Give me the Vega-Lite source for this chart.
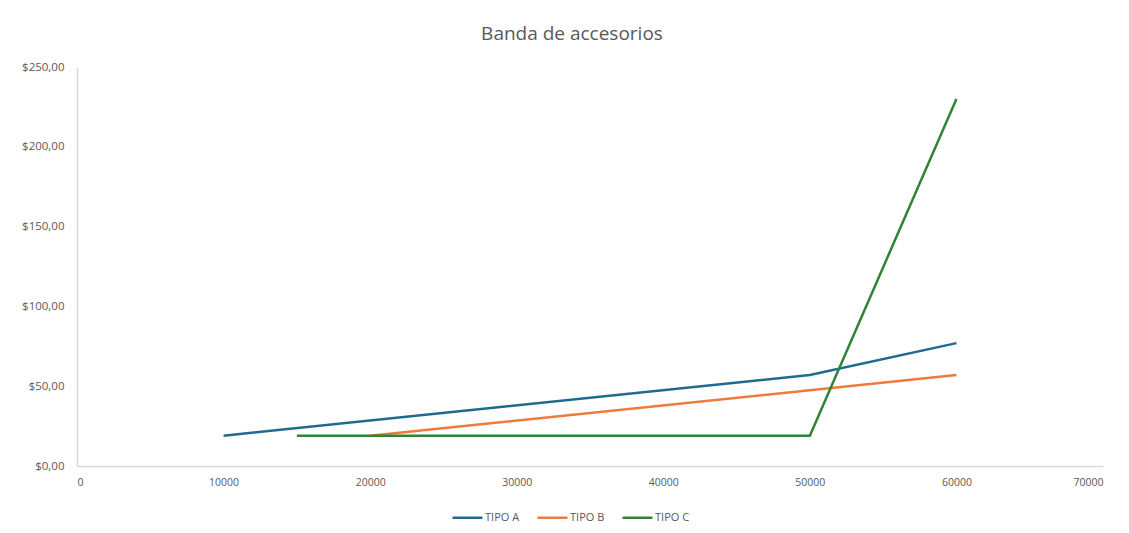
{
  "$schema": "https://vega.github.io/schema/vega-lite/v6.json",
  "width": 1026,
  "height": 399,
  "autosize": {"type": "none"},
  "padding": {"left": 77, "top": 67, "right": 26, "bottom": 67},
  "background": "white",
  "config": {"view": {"stroke": null}},
  "title": {
    "text": "Banda de accesorios",
    "font": "Open Sans",
    "fontSize": 19,
    "fontWeight": "normal",
    "color": "#595959",
    "anchor": "middle",
    "dx": -18,
    "offset": 17
  },
  "data": {
    "values": [
      {"tipo": "TIPO A", "km": 10000, "precio": 19},
      {"tipo": "TIPO A", "km": 50000, "precio": 57},
      {"tipo": "TIPO A", "km": 60000, "precio": 77},
      {"tipo": "TIPO B", "km": 20000, "precio": 19},
      {"tipo": "TIPO B", "km": 50000, "precio": 47.5},
      {"tipo": "TIPO B", "km": 60000, "precio": 57},
      {"tipo": "TIPO C", "km": 15000, "precio": 19},
      {"tipo": "TIPO C", "km": 50000, "precio": 19},
      {"tipo": "TIPO C", "km": 60000, "precio": 230}
    ]
  },
  "mark": {"type": "line", "strokeWidth": 2.5},
  "encoding": {
    "x": {
      "field": "km",
      "type": "quantitative",
      "scale": {"domain": [0, 70000], "nice": false},
      "axis": {
        "title": null,
        "values": [0, 10000, 20000, 30000, 40000, 50000, 60000, 70000],
        "format": "d",
        "grid": false,
        "ticks": false,
        "domainColor": "#d9d9d9",
        "domainWidth": 1.5,
        "labelColor": "#595959",
        "labelFont": "Open Sans",
        "labelFontSize": 10.5,
        "labelPadding": 11
      }
    },
    "y": {
      "field": "precio",
      "type": "quantitative",
      "scale": {"domain": [0, 250], "nice": false},
      "axis": {
        "title": null,
        "values": [0, 50, 100, 150, 200, 250],
        "labelExpr": "'$' + replace(format(datum.value, '.2f'), '.', ',')",
        "grid": false,
        "ticks": false,
        "domainColor": "#d9d9d9",
        "domainWidth": 1.5,
        "labelColor": "#595959",
        "labelFont": "Open Sans",
        "labelFontSize": 11.5,
        "labelPadding": 13
      }
    },
    "color": {
      "field": "tipo",
      "type": "nominal",
      "scale": {
        "domain": ["TIPO A", "TIPO B", "TIPO C"],
        "range": ["#1f6a90", "#ee7a3e", "#2f8436"]
      },
      "legend": {
        "title": null,
        "orient": "none",
        "legendX": 374,
        "legendY": 434,
        "direction": "horizontal",
        "symbolType": "stroke",
        "symbolSize": 900,
        "symbolStrokeWidth": 2.5,
        "labelColor": "#595959",
        "labelFont": "Open Sans",
        "labelFontSize": 11,
        "labelOffset": 1,
        "columnPadding": 12
      }
    }
  }
}
